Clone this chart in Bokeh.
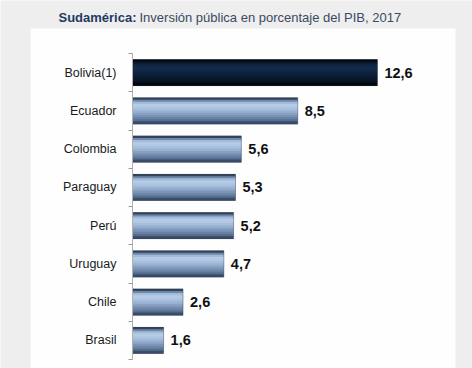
from bokeh.plotting import figure
from bokeh.models import Range1d, LinearAxis, FixedTicker, Label, ColumnDataSource, BoxAnnotation
from bokeh.core.properties import value
from bokeh.embed import file_html
from bokeh.resources import INLINE

# ---- data ----
countries = ["Bolivia(1)", "Ecuador", "Colombia", "Paraguay", "Perú", "Uruguay", "Chile", "Brasil"]
inversion = [12.6, 8.5, 5.6, 5.3, 5.2, 4.7, 2.6, 1.6]
highlight = ["Bolivia(1)"]
title_bold = "Sudamérica:"
title_rest = "Inversión pública en porcentaje del PIB, 2017"

# ---- styling ----
light_grad = ["#34445c", "#6f88a8", "#a3bbda", "#b6cbe6", "#b2c7e3", "#a6bddc",
              "#98b0d1", "#89a2c4", "#7992b5", "#6982a4", "#566f91", "#3a4d6a"]
dark_grad = ["#04070c", "#0a1628", "#0f2440", "#12294a", "#12294a", "#102645",
             "#0e223e", "#0c1e37", "#0a1a30", "#081527", "#06101d", "#03060b"]
BAR_H = 0.68
N = len(light_grad)

n = len(countries)
pos = list(range(n))

p = figure(width=472, height=368, output_backend="svg", toolbar_location=None,
           x_axis_location=None, y_axis_location=None,
           x_range=Range1d(-6.79, 17.49), y_range=Range1d(7.735, -1.886),
           min_border_left=0, min_border_right=0, min_border_top=0, min_border_bottom=0)
p.outline_line_color = None
p.grid.visible = False
p.background_fill_color = "#eeeeee"
p.border_fill_color = "#eeeeee"

# white panel behind the chart
p.add_layout(BoxAnnotation(left=-5.247, right=16.615, top=-1.154, bottom=7.9,
                           fill_color="#fefefe", fill_alpha=1.0, line_color=None,
                           level="underlay"))

# gradient bars built from stacked strips
for k in range(N):
    ys, rs, cs = [], [], []
    for i, (c, v) in enumerate(zip(countries, inversion)):
        ys.append(i - BAR_H / 2 + (k + 0.5) * BAR_H / N)
        rs.append(v)
        cs.append(dark_grad[k] if c in highlight else light_grad[k])
    src = ColumnDataSource(dict(y=ys, right=rs, color=cs))
    p.hbar(y="y", left=0, right="right", height=BAR_H / N * 1.35, fill_color="color",
           line_color=None, source=src)

# subtle outline around each bar
p.hbar(y=pos, left=0, right=inversion, height=BAR_H, fill_color=None,
       line_color="#2c3a50", line_width=0.7, line_alpha=0.6)

# value labels
labels = [f"{v:.1f}".replace(".", ",") for v in inversion]
p.text(x=inversion, y=pos, text=labels, x_offset=7, text_baseline="middle",
       text_align="left", text_font=value("Liberation Sans"), text_font_size="14.5px",
       text_font_style="bold", text_color="#111111")

# category axis placed at x=0
ax = LinearAxis(fixed_location=0,
                ticker=FixedTicker(ticks=pos, minor_ticks=[i - 0.5 for i in range(n + 1)]),
                bounds=(-0.5, n - 0.5))
ax.major_label_overrides = {i: c for i, c in enumerate(countries)}
ax.major_tick_line_color = None
ax.minor_tick_out = 4
ax.minor_tick_in = 0
ax.minor_tick_line_color = "#9a9a9a"
ax.axis_line_color = "#b0b0b0"
ax.major_label_standoff = 10
ax.major_label_text_font = "Liberation Sans"
ax.major_label_text_font_size = "12.5px"
ax.major_label_text_color = "#1a1a1a"
p.add_layout(ax, "left")

# title in two styles
p.add_layout(Label(x=-3.807, y=-1.441, text=title_bold,
                   text_font="Liberation Sans", text_font_size="13px", text_font_style="bold",
                   text_color="#1f3a5f", text_baseline="middle"))
p.add_layout(Label(x=0.36, y=-1.441, text=title_rest,
                   text_font="Liberation Sans", text_font_size="13px",
                   text_color="#3a4a60", text_baseline="middle"))

open("out.html", "w").write(file_html(p, INLINE))
